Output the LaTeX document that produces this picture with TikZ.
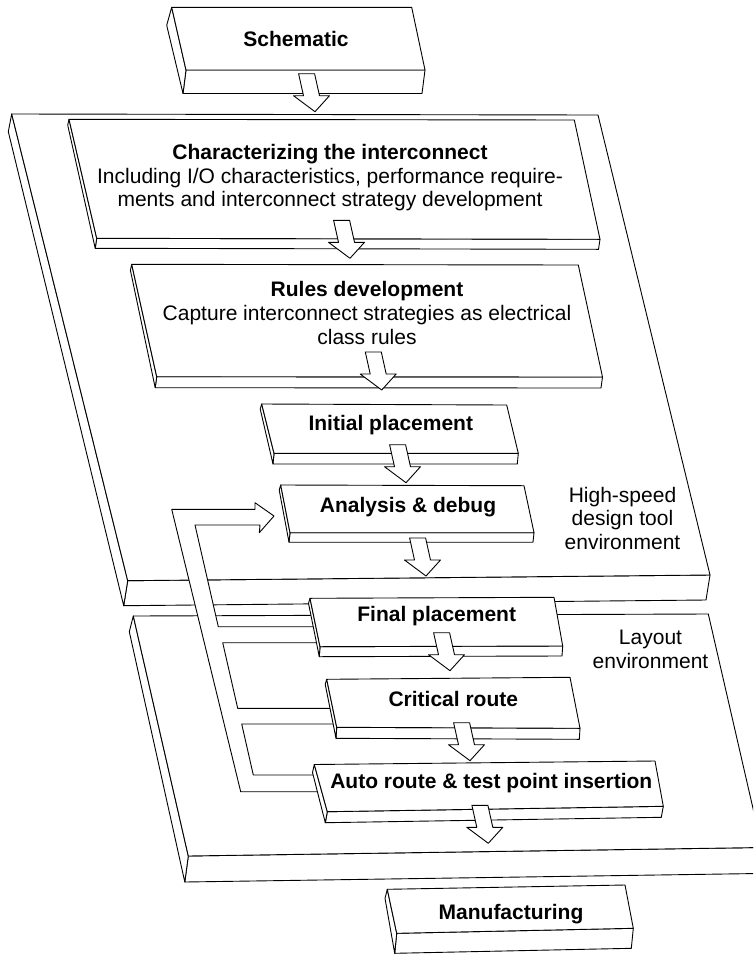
\documentclass[tikz,border=0pt]{standalone}
\usepackage{fontspec}
\setmainfont{Liberation Sans}
\usetikzlibrary{calc}
\tikzset{
  face/.style={draw=black, fill=white, line width=0.9pt, line join=round},
  pipe/.style={face},
  blockarrow/.style={face},
  boxtitle/.style={font=\fontsize{21}{24}\selectfont\bfseries, anchor=base, inner sep=0pt},
  boxbody/.style={font=\fontsize{21}{23.8}\selectfont, align=center, inner sep=0pt},
  envlabel/.style={font=\fontsize{21}{23.3}\selectfont, align=center, inner sep=0pt},
}
% #1 TL, #2 TR, #3 BR, #4 BL, #5 bottom extrusion, #6 top extrusion
\newcommand{\slab}[6]{%
  \draw[face] (#4) -- (#3) -- ($(#3)+(#5)$) -- ($(#4)+(#5)$) -- cycle;
  \draw[face] (#1) -- (#4) -- ($(#4)+(#5)$) -- ($(#1)+(#6)$) -- cycle;
  \draw[face] (#1) -- (#2) -- (#3) -- (#4) -- cycle;
}
\newcommand{\flowarrow}[1]{%
  \draw[blockarrow] (#1) -- ++(14.5,-16) -- ++(-10,0) -- ++(-4.9,-22) -- ++(-16,0)
    -- ++(4.9,22) -- ++(-10,0) -- cycle;
}
\begin{document}
\begin{tikzpicture}[x=1pt,y=-1pt]
\useasboundingbox (0,0) rectangle (753,956);
\clip (0,0) rectangle (753,956);

% Layout environment slab
\slab{133.3,616}{708.3,614}{762,847.5}{188.3,856}{-3.5,26}{-4,15.7}
% High-speed design tool environment slab
\slab{11.7,114}{598,115}{710,575}{127.7,580.7}{-4,25}{-3.4,17.7}

% feedback pipe
\draw[pipe] (171.7,509.3) -- (255,509.3) -- (255,502.7) -- (274,516) -- (259.3,532.7)
  -- (260,525) -- (195,525) -- (218.3,626.7) -- (322,626.7) -- (322,642.7)
  -- (222.7,642.7) -- (237.7,708.3) -- (340,708.3) -- (340,724) -- (241.7,724)
  -- (253.3,775) -- (326,775) -- (326,791.7) -- (240.7,791.7) -- cycle;

% process boxes
\slab{171.7,7.3}{411.7,7.3}{425,70}{186,70}{-3,23.5}{-5,18}
\slab{69,119.3}{574.3,120}{600,239.3}{96.7,238.3}{-1.5,10}{-1.3,5.7}
\slab{131.7,264.3}{578.3,265}{602.5,377}{156.7,376.7}{-1.5,11}{-1.3,6}
\slab{261.7,404}{506.7,405}{518.3,453.3}{274,453.3}{-1,10.7}{-1.5,5}
\slab{280.7,485}{524,485.7}{534,532.7}{290,532.7}{-1,9.5}{-1.5,5}
\slab{310,598.3}{554,597.3}{562.7,646}{320,646.7}{-0.7,10}{-1.5,5}
\slab{326.7,679.3}{570,677.3}{580,728.3}{336.7,727.3}{-0.7,11}{-1.5,5}
\slab{314.3,764.5}{655,761}{663.3,806.3}{327.3,811.7}{-2,11}{-1.8,8}
\slab{387.3,889.3}{625,885}{633.3,928.3}{396.7,933.3}{-2,20}{-2.3,9}

% arrow tips
\coordinate (t1) at (315,111.7);
\coordinate (t2) at (350,258.3);
\coordinate (t3) at (381.7,390);
\coordinate (t4) at (406,482.7);
\coordinate (t5) at (426,576);
\coordinate (t6) at (450,670.7);
\coordinate (t7) at (470,760.7);
\coordinate (t8) at (488.3,843.3);
\flowarrow{t1}
\flowarrow{t2}
\flowarrow{t3}
\flowarrow{t4}
\flowarrow{t5}
\flowarrow{t6}
\flowarrow{t7}
\flowarrow{t8}

% texts
\node[boxtitle] (sch) at (296,46.8) {Schematic};
\node[boxbody] (chr) at (330,177.6) {\textbf{Characterizing the interconnect}\\Including I/O characteristics, performance require-\\ments and interconnect strategy development};
\node[boxbody] (rul) at (367,312.7) {\textbf{Rules development}\\Capture interconnect strategies as electrical\\class rules};
\node[boxtitle] (ini) at (390.8,430.2) {Initial placement};
\node[boxtitle] (ana) at (408,512.5) {Analysis \& debug};
\node[boxtitle] (fin) at (436.7,621.5) {Final placement};
\node[boxtitle] (cri) at (453.3,706.8) {Critical route};
\node[boxtitle] (aut) at (491.3,788.2) {Auto route \& test point insertion};
\node[boxtitle] (man) at (511,919.2) {Manufacturing};
\node[envlabel] (env1) at (622.5,518.2) {High-speed\\design tool\\environment};
\node[envlabel, font=\fontsize{21}{24.4}\selectfont] (env2) at (650.5,649.4) {Layout\\environment};
\end{tikzpicture}
\end{document}
